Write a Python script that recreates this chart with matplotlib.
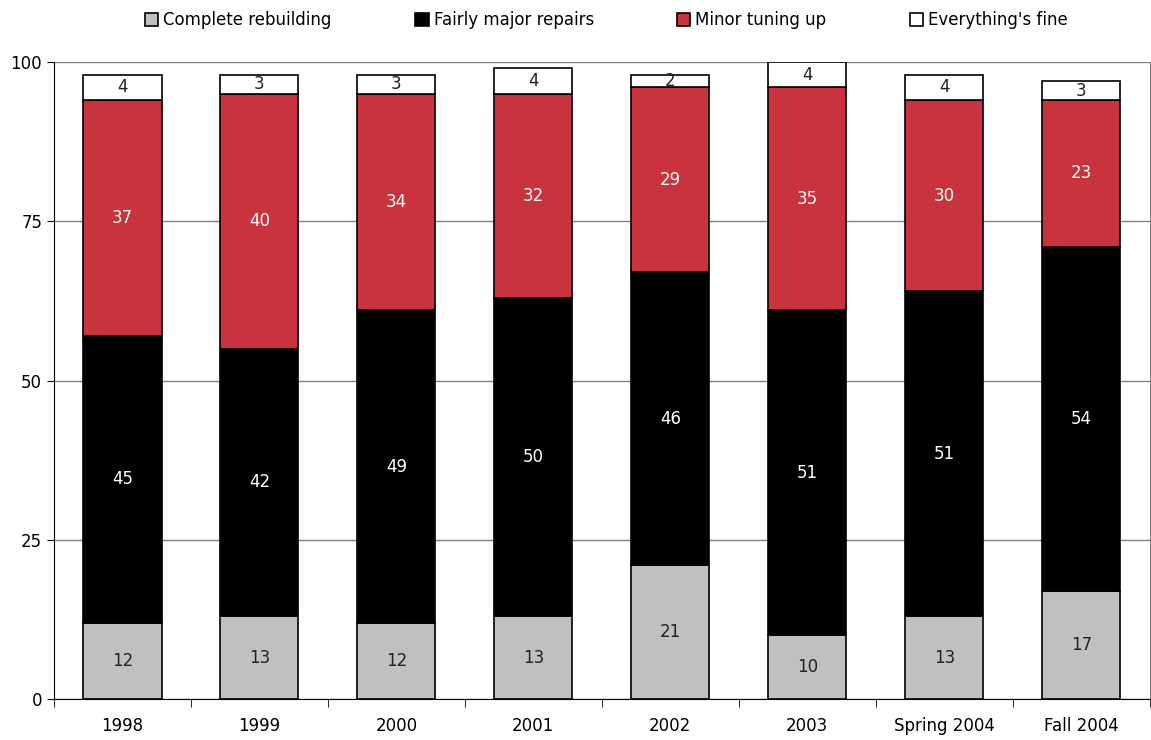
#!/usr/bin/env python
"""
Stacked bars: how much repair does the system need, by survey year
"""

import matplotlib.pyplot as plt
import numpy as np

years = ["1998", "1999", "2000", "2001", "2002", "2003", "Spring 2004", "Fall 2004"]
complete_rebuilding = [12, 13, 12, 13, 21, 10, 13, 17]
major_repairs = [45, 42, 49, 50, 46, 51, 51, 54]
minor_tuning = [37, 40, 34, 32, 29, 35, 30, 23]
all_fine = [4, 3, 3, 4, 2, 4, 4, 3]

series_names = ["Complete rebuilding", "Fairly major repairs", "Minor tuning up", "Everything's fine"]


def main():
    """
    Driver code
    """
    fig = plt.figure(figsize=(11.51, 7.4), dpi=100)
    ax = fig.add_axes([0.0469, 0.0554, 0.952, 0.8608])

    series = [complete_rebuilding, major_repairs, minor_tuning, all_fine]
    colors = ["#c0c0c0", "#000000", "#c8333d", "#ffffff"]
    text_colors = ["#222222", "white", "white", "#222222"]
    x = np.arange(len(years))
    bottom = np.zeros(len(years))
    handles = []
    for vals, name, col, tcol in zip(series, series_names, colors, text_colors):
        vals = np.array(vals, dtype=float)
        bars = ax.bar(x, vals, bottom=bottom, width=0.57, color=col,
                      edgecolor="black", linewidth=1.2, label=name, zorder=3)
        handles.append(bars)
        for xi, v, b in zip(x, vals, bottom):
            ax.text(xi, b + v / 2, f"{int(v)}", ha="center", va="center",
                    fontsize=12, color=tcol, zorder=4)
        bottom += vals

    ax.set_xlim(-0.5, len(years) - 0.5)
    ax.set_ylim(0, 100)
    ax.set_yticks([0, 25, 50, 75, 100])
    ax.tick_params(axis="y", labelsize=12, length=5, direction="out")
    ax.yaxis.grid(True, color="#808080", linewidth=1, zorder=0)

    ax.set_xticks(x)
    ax.set_xticklabels(years)
    ax.tick_params(axis="x", length=0, labelsize=12, pad=13)
    ax.set_xticks(np.arange(len(years) + 1) - 0.5, minor=True)
    ax.tick_params(axis="x", which="minor", length=6, direction="out")

    ax.spines["top"].set_visible(False)
    ax.spines["right"].set_color("#808080")
    ax.spines["left"].set_color("black")
    ax.spines["bottom"].set_color("black")

    fig.legend(handles=handles, loc="upper center", bbox_to_anchor=(0.527, 1.005),
               ncol=4, frameon=False, fontsize=12, handlelength=0.8,
               handleheight=0.8, handletextpad=0.3, columnspacing=5)

    plt.savefig("out.png", format="png", dpi=100)


if __name__ == "__main__":
    main()
